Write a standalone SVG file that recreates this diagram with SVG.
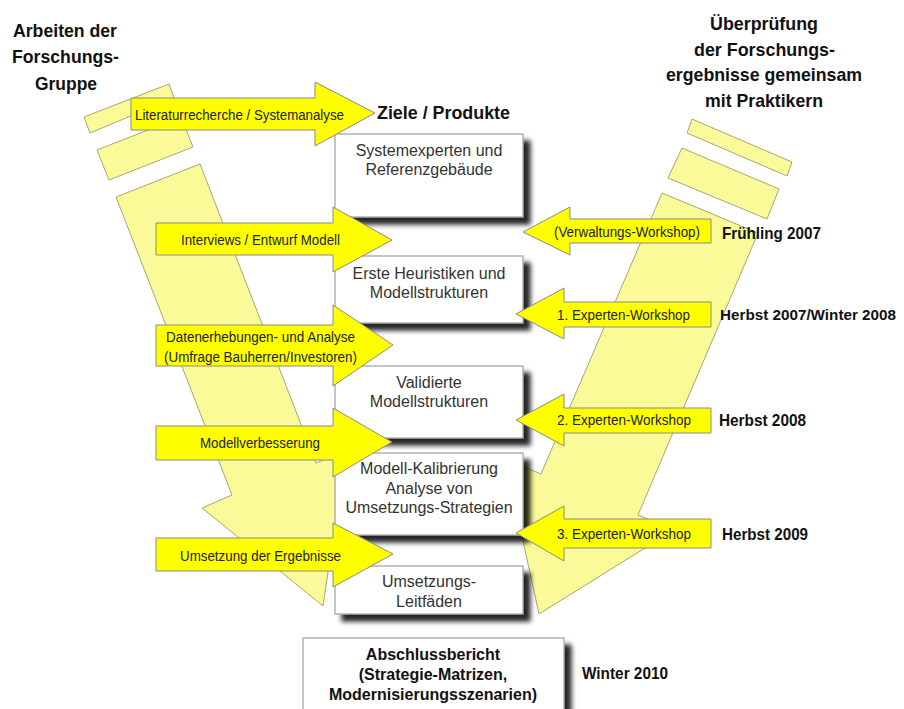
<svg xmlns="http://www.w3.org/2000/svg" width="904" height="709" viewBox="0 0 904 709">
<defs>
<filter id="sh" x="-10%" y="-10%" width="130%" height="150%">
<feGaussianBlur in="SourceAlpha" stdDeviation="2.5"/>
<feOffset dx="7" dy="7" result="b"/>
<feFlood flood-color="#000" flood-opacity="0.85"/>
<feComposite in2="b" operator="in"/>
<feMerge><feMergeNode/><feMergeNode in="SourceGraphic"/></feMerge>
</filter>
</defs>
<style>
.pale{fill:#FAFA98;stroke:#8f8f60;stroke-width:0.8}
.ya{fill:#FFFF00;stroke:#8a8a8a;stroke-width:1}
.box{fill:#fff;stroke:#a0a0a0;stroke-width:1.2}
.bt{font-family:"Liberation Sans",Arial,sans-serif;font-size:16px;fill:#333;text-anchor:middle}
.bb{font-family:"Liberation Sans",Arial,sans-serif;font-size:16px;font-weight:bold;fill:#111;text-anchor:middle}
.at{font-family:"Liberation Sans",Arial,sans-serif;font-size:14px;fill:#222}
.hd{font-family:"Liberation Sans",Arial,sans-serif;font-size:19px;font-weight:bold;fill:#111}
.lb{font-family:"Liberation Sans",Arial,sans-serif;font-size:17px;font-weight:bold;fill:#111}
</style>
<rect width="904" height="709" fill="#fff"/>

<!-- big pale arrows -->
<g id="left-flow">
<polygon class="pale" points="84,117 169,84 174,98 90,133"/>
<polygon class="pale" points="97,150 181,117 193,147 109,180"/>
<polygon class="pale" points="116,197 200,164 316,463 346,451 323,606 202,508 232,495"/>
</g>
<g id="right-flow">
<polygon class="pale" points="692,119 792,162 787,176 687,133"/>
<polygon class="pale" points="682,148 779,189 767,219 668,178"/>
<polygon class="pale" points="662,193 758,233 638,515 674,530 539,614 505,459 541,474"/>
</g>

<!-- headers -->
<g id="header-left">
<text class="hd" x="13" y="37" textLength="104" lengthAdjust="spacingAndGlyphs">Arbeiten der</text>
<text class="hd" x="12" y="63" textLength="107" lengthAdjust="spacingAndGlyphs">Forschungs-</text>
<text class="hd" x="35" y="90" textLength="62" lengthAdjust="spacingAndGlyphs">Gruppe</text>
</g>
<g id="header-center">
<text class="hd" x="377" y="119" textLength="133" lengthAdjust="spacingAndGlyphs">Ziele / Produkte</text>
</g>
<g id="header-right">
<text class="hd" x="710" y="30" textLength="108" lengthAdjust="spacingAndGlyphs">Überprüfung</text>
<text class="hd" x="694" y="56" textLength="141" lengthAdjust="spacingAndGlyphs">der Forschungs-</text>
<text class="hd" x="666" y="81" textLength="196" lengthAdjust="spacingAndGlyphs">ergebnisse gemeinsam</text>
<text class="hd" x="705" y="107" textLength="118" lengthAdjust="spacingAndGlyphs">mit Praktikern</text>
</g>

<!-- product boxes -->
<g id="box1">
<rect class="box" x="335" y="134" width="188" height="83" filter="url(#sh)"/>
<text class="bt" x="429" y="156">Systemexperten und</text>
<text class="bt" x="429" y="175">Referenzgebäude</text>
</g>
<g id="box2">
<rect class="box" x="335" y="256" width="188" height="67" filter="url(#sh)"/>
<text class="bt" x="429" y="279">Erste Heuristiken und</text>
<text class="bt" x="429" y="298">Modellstrukturen</text>
</g>
<g id="box3">
<rect class="box" x="335" y="366" width="188" height="72" filter="url(#sh)"/>
<text class="bt" x="429" y="388">Validierte</text>
<text class="bt" x="429" y="407">Modellstrukturen</text>
</g>
<g id="box4">
<rect class="box" x="335" y="453" width="188" height="82" filter="url(#sh)"/>
<text class="bt" x="429" y="474">Modell-Kalibrierung</text>
<text class="bt" x="429" y="494">Analyse von</text>
<text class="bt" x="429" y="513">Umsetzungs-Strategien</text>
</g>
<g id="box5">
<rect class="box" x="335" y="566" width="188" height="48" filter="url(#sh)"/>
<text class="bt" x="429" y="587">Umsetzungs-</text>
<text class="bt" x="429" y="607">Leitfäden</text>
</g>
<g id="box6">
<rect class="box" x="303" y="638" width="261" height="90" filter="url(#sh)"/>
<text class="bb" x="433" y="660">Abschlussbericht</text>
<text class="bb" x="433" y="680">(Strategie-Matrizen,</text>
<text class="bb" x="433" y="700">Modernisierungsszenarien)</text>
</g>

<!-- yellow arrows -->
<g id="connectors">
<g id="a-literatur">
<polygon class="ya" points="131,98 315,98 315,82 375,113 315,146 315,130 131,130"/>
<text class="at" x="135" y="120" textLength="209" lengthAdjust="spacingAndGlyphs">Literaturrecherche / Systemanalyse</text>
</g>
<g id="a-interviews">
<polygon class="ya" points="156,223 333,223 333,207 392,240 333,272 333,255 156,255"/>
<text class="at" x="181" y="245" textLength="159" lengthAdjust="spacingAndGlyphs">Interviews / Entwurf Modell</text>
</g>
<g id="a-daten">
<polygon class="ya" points="156,325 333,325 333,305 393,345 333,386 333,366 156,366"/>
<text class="at" x="166" y="342" textLength="189" lengthAdjust="spacingAndGlyphs">Datenerhebungen- und Analyse</text>
<text class="at" x="164" y="362" textLength="193" lengthAdjust="spacingAndGlyphs">(Umfrage Bauherren/Investoren)</text>
</g>
<g id="a-modell">
<polygon class="ya" points="156,426 333,426 333,408 392,442 333,477 333,460 156,460"/>
<text class="at" x="200" y="448" textLength="120" lengthAdjust="spacingAndGlyphs">Modellverbesserung</text>
</g>
<g id="a-umsetzung">
<polygon class="ya" points="156,538 333,538 333,523 393,554 333,587 333,571 156,571"/>
<text class="at" x="180" y="561" textLength="161" lengthAdjust="spacingAndGlyphs">Umsetzung der Ergebnisse</text>
</g>
<g id="a-verwaltung">
<polygon class="ya" points="711,219 570,219 570,207 523,232 570,255 570,243 711,243"/>
<text class="at" x="554" y="237" textLength="146" lengthAdjust="spacingAndGlyphs">(Verwaltungs-Workshop)</text>
</g>
<g id="a-exp1">
<polygon class="ya" points="711,302 564,302 564,288 516,314 564,339 564,327 711,327"/>
<text class="at" x="557" y="320" textLength="133" lengthAdjust="spacingAndGlyphs">1. Experten-Workshop</text>
</g>
<g id="a-exp2">
<polygon class="ya" points="711,408 564,408 564,394 516,420 564,446 564,433 711,433"/>
<text class="at" x="557" y="425" textLength="134" lengthAdjust="spacingAndGlyphs">2. Experten-Workshop</text>
</g>
<g id="a-exp3">
<polygon class="ya" points="711,519 564,519 564,506 516,533 564,561 564,548 711,548"/>
<text class="at" x="557" y="539" textLength="134" lengthAdjust="spacingAndGlyphs">3. Experten-Workshop</text>
</g>
</g>

<!-- dates -->
<g id="dates">
<text class="lb" x="722" y="239" textLength="99" lengthAdjust="spacingAndGlyphs">Frühling 2007</text>
<text class="lb" x="720" y="320" style="font-size:15.2px" textLength="176" lengthAdjust="spacingAndGlyphs">Herbst 2007/Winter 2008</text>
<text class="lb" x="719" y="426" textLength="87" lengthAdjust="spacingAndGlyphs">Herbst 2008</text>
<text class="lb" x="722" y="540" textLength="86" lengthAdjust="spacingAndGlyphs">Herbst 2009</text>
<text class="lb" x="582" y="679" textLength="86" lengthAdjust="spacingAndGlyphs">Winter 2010</text>
</g>
</svg>
